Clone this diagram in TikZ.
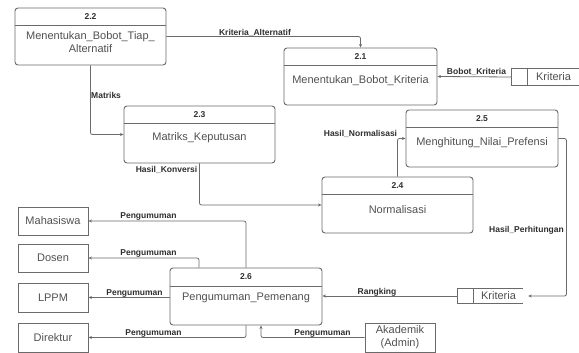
\documentclass[tikz,border=0pt]{standalone}
\usepackage{fontspec}
\setmainfont{Liberation Sans}
\usetikzlibrary{arrows.meta,calc}
\definecolor{lin}{HTML}{6A6A6A}
\definecolor{txt}{HTML}{505050}
\definecolor{lbl}{HTML}{2E2E2E}
\tikzset{
 procbox/.style={draw=lin, line width=0.9pt, rounded corners=3pt, inner sep=0pt},
 extbox/.style={draw=lin, line width=0.9pt, inner sep=0pt, font=\fontsize{11}{13}\selectfont, text=txt, align=center, minimum width=70pt},
 hdr/.style={draw=lin, line width=0.8pt},
 numtxt/.style={font=\bfseries\fontsize{8.5}{10}\selectfont, text=lbl, inner sep=0pt},
 maintxt/.style={font=\fontsize{11}{13}\selectfont, text=txt, align=center, inner sep=0pt},
 storebox/.style={inner sep=0pt},
 storeline/.style={draw=lin, line width=0.9pt},
 flow/.style={draw=lin, line width=0.8pt, rounded corners=2pt, -{Stealth[length=3.5pt,width=3pt]}},
 flowlbl/.style={font=\bfseries\fontsize{8.5}{10}\selectfont, text=lbl, inner sep=0pt},
}
\begin{document}
\begin{tikzpicture}[x=1pt,y=-1pt]
\useasboundingbox (0,0) rectangle (579,353);

% processes
\node[procbox, minimum width=151pt, minimum height=57pt] (p22) at (90.5,36.5) {};
\draw[hdr] (p22.west |- 0,25) -- (p22.east |- 0,25);
\node[numtxt] (n22) at (90.5,16.5) {2.2};
\node[maintxt] (t22) at (90.5,42) {Menentukan\_Bobot\_Tiap\_\\Alternatif};

\node[procbox, minimum width=153pt, minimum height=57pt] (p21) at (360.5,76.5) {};
\draw[hdr] (p21.west |- 0,65) -- (p21.east |- 0,65);
\node[numtxt] (n21) at (360.5,56.5) {2.1};
\node[maintxt] (t21) at (360.5,81) {Menentukan\_Bobot\_Kriteria};

\node[procbox, minimum width=151pt, minimum height=57pt] (p23) at (199.5,134.5) {};
\draw[hdr] (p23.west |- 0,123) -- (p23.east |- 0,123);
\node[numtxt] (n23) at (199.5,114.5) {2.3};
\node[maintxt] (t23) at (199.5,138) {Matriks\_Keputusan};

\node[procbox, minimum width=151pt, minimum height=56pt] (p24) at (397.5,205) {};
\draw[hdr] (p24.west |- 0,194) -- (p24.east |- 0,194);
\node[numtxt] (n24) at (397.5,185.5) {2.4};
\node[maintxt] (t24) at (397.5,210) {Normalisasi};

\node[procbox, minimum width=152pt, minimum height=57pt] (p25) at (482,138.5) {};
\draw[hdr] (p25.west |- 0,127) -- (p25.east |- 0,127);
\node[numtxt] (n25) at (482,118.5) {2.5};
\node[maintxt] (t25) at (482,143) {Menghitung\_Nilai\_Prefensi};

\node[procbox, minimum width=152pt, minimum height=57pt] (p26) at (246,296.5) {};
\draw[hdr] (p26.west |- 0,286) -- (p26.east |- 0,286);
\node[numtxt] (n26) at (246,277) {2.6};
\node[maintxt] (t26) at (246,298) {Pengumuman\_Pemenang};

% external entities
\node[extbox, minimum height=28pt] (e1) at (53,221) {Mahasiswa};
\node[extbox, minimum height=28pt] (e2) at (53,258) {Dosen};
\node[extbox, minimum height=29pt] (e3) at (53,297.5) {LPPM};
\node[extbox, minimum height=29pt] (e4) at (53,337.5) {Direktur};
\node[extbox, minimum height=29pt] (e5) at (400,337.5) {Akademik\\(Admin)};

% data stores
\node[storebox, minimum width=67pt, minimum height=16pt] (s1) at (545.5,77) {};
\draw[storeline] (s1.north east) -- (s1.north west) -- (s1.south west) -- (s1.south east);
\draw[storeline] (527,69) -- (527,85);
\node[maintxt] (k1) at (553.5,77) {Kriteria};

\node[storebox, minimum width=65pt, minimum height=14pt] (s2) at (490.5,296) {};
\draw[storeline] (s2.north east) -- (s2.north west) -- (s2.south west) -- (s2.south east);
\draw[storeline] (473,289) -- (473,303);
\node[maintxt] (k2) at (498.5,296) {Kriteria};
\coordinate (s2r) at ($(s2.east)+(5,0)$);
\coordinate (p25r) at ($(p25.east)+(8,0)$);

% flows
\draw[flow] (p22.east) -| (p21.north);
\node[flowlbl] (l1) at (255,33) {Kriteria\_Alternatif};

\draw[flow] (s1.west) -- (p21.east);
\node[flowlbl] (l2) at (476.5,72) {Bobot\_Kriteria};

\draw[flow] (p22.south) |- (p23.west);
\node[flowlbl, anchor=west] (l3) at (91,95) {Matriks};

\draw[flow] (p23.south) |- (p24.west);
\node[flowlbl] (l4) at (166.5,170) {Hasil\_Konversi};

\draw[flow] (p24.north) |- (p25.west);
\node[flowlbl] (l5) at (360.5,134) {Hasil\_Normalisasi};

\draw[flow] (p25.east) -- (p25r) |- (s2r);
\node[flowlbl] (l6) at (526.5,230) {Hasil\_Perhitungan};

\draw[flow] (s2.west) -- (p26.east |- s2.west);
\node[flowlbl] (l7) at (377,292) {Rangking};

\draw[flow] (p26.north) |- (e1.east);
\node[flowlbl] (l8) at (148.5,216) {Pengumuman};

\draw[flow] ([xshift=-47pt]p26.north) |- (e2.east);
\node[flowlbl] (l9) at (148.5,253) {Pengumuman};

\draw[flow] (p26.west |- e3.east) -- (e3.east);
\node[flowlbl] (l10) at (134.5,293) {Pengumuman};

\draw[flow] (p26.south) |- (e4.east);
\node[flowlbl] (l11) at (153.5,333) {Pengumuman};

\draw[flow] (e5.west) -| ([xshift=15pt]p26.south);
\node[flowlbl] (l12) at (322.5,333) {Pengumuman};
\end{tikzpicture}
\end{document}
